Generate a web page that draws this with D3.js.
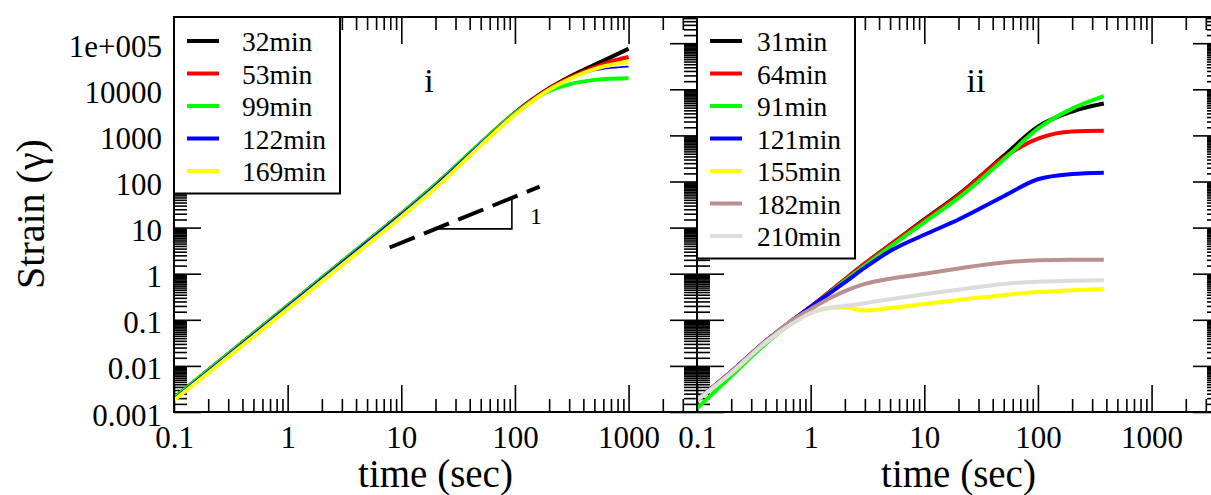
<!DOCTYPE html>
<html><head><meta charset="utf-8">
<script src="https://cdn.jsdelivr.net/npm/d3@7"></script>
<style>
html,body{margin:0;padding:0;background:#fff;}
svg{display:block;}
</style></head>
<body>
<svg id="chart" width="1211" height="495"></svg>
<script>
// ---------- data ----------
const timeL = [0.1, 0.2, 0.5, 1, 2, 5, 10, 20, 50, 100, 200, 300, 500, 700, 1000];
const labelsL = ["32min", "53min", "99min", "122min", "169min"];
const colorsL = ["#000000", "#ff0000", "#00ff00", "#0000ff", "#ffff00"];
const s32 = [0.002, 0.008, 0.05, 0.2, 0.8, 5, 20, 85, 680, 3100, 10500, 18500, 34000, 50000, 76000];
const s53 = [0.002, 0.008, 0.05, 0.2, 0.8, 5, 20, 85, 680, 3050, 10300, 17500, 30000, 40000, 50000];
const s99 = [0.002, 0.008, 0.05, 0.2, 0.8, 5, 20, 85, 680, 3000, 9200, 12800, 16000, 17000, 17300];
const s122 = [0.002, 0.008, 0.05, 0.2, 0.8, 5, 20, 85, 680, 3050, 10300, 17000, 25500, 29000, 31000];
const s169 = [0.0018, 0.007, 0.043, 0.17, 0.68, 4.2, 17, 72, 600, 2800, 9800, 16500, 27500, 34000, 39000];
const seriesL = [s32, s53, s99, s122, s169];

const timeR = [0.1, 0.2, 0.4, 0.7, 1, 1.5, 2, 3, 5, 10, 20, 50, 100, 200, 380];
const labelsR = ["31min", "64min", "91min", "121min", "155min", "182min", "210min"];
const colorsR = ["#000000", "#ff0000", "#00ff00", "#0000ff", "#ffff00", "#bc8f8f", "#dcdcdc"];
const s31 = [0.0018, 0.0075, 0.034, 0.1, 0.19, 0.42, 0.75, 1.65, 4.2, 15, 52, 360, 1550, 3300, 4900];
const s64 = [0.0018, 0.0075, 0.034, 0.1, 0.19, 0.42, 0.75, 1.65, 4.2, 14.5, 50, 330, 850, 1220, 1260];
const s91 = [0.0012, 0.006, 0.03, 0.09, 0.18, 0.4, 0.7, 1.5, 3.8, 13, 44, 300, 1400, 3800, 7100];
const s121 = [0.0018, 0.0075, 0.034, 0.1, 0.19, 0.39, 0.65, 1.35, 3.1, 7, 15, 48, 112, 145, 155];
const s155 = [0.0018, 0.007, 0.032, 0.085, 0.14, 0.18, 0.185, 0.16, 0.18, 0.22, 0.27, 0.34, 0.4, 0.44, 0.46];
const s182 = [0.0018, 0.0075, 0.034, 0.1, 0.17, 0.3, 0.42, 0.6, 0.78, 1.0, 1.3, 1.75, 1.95, 2.0, 2.0];
const s210 = [0.0018, 0.007, 0.032, 0.085, 0.14, 0.185, 0.2, 0.23, 0.28, 0.36, 0.45, 0.6, 0.67, 0.7, 0.72];
const seriesR = [s31, s64, s91, s121, s155, s182, s210];

// slope-1 guide line and triangle
const guideT = [7.9, 165];
const guideS = [3.7, 77.5];
const triT = [20, 94, 94];
const triS = [9.4, 9.4, 44];

const xMajor = [0.1, 1, 10, 100, 1000];
const yMajor = [0.001, 0.01, 0.1, 1, 10, 100, 1000, 10000, 100000];
const yTickLabels = ["0.001", "0.01", "0.1", "1", "10", "100", "1000", "10000", "1e+005"];

// ---------- layout ----------
const FONT = '"Liberation Serif", "Times New Roman", serif';
const svg = d3.select("#chart");
const yTop = 17, yBot = 412;
const Lx0 = 174, Lx1 = 697, Rx0 = 697, Rx1 = 1220;
const xL = d3.scaleLog().domain([0.1, 4000]).range([Lx0, Lx1]);
const xR = d3.scaleLog().domain([0.1, 4000]).range([Rx0, Rx1]);
const y = d3.scaleLog().domain([0.001, 3.7e5]).range([yBot, yTop]);

const xMinor = [];
[-1, 0, 1, 2, 3].forEach(d => { for (let k = 2; k <= 9; k++) { const v = k * Math.pow(10, d); if (v <= 4000) xMinor.push(v); } });
const yMinor = [];
[-3, -2, -1, 0, 1, 2, 3, 4, 5].forEach(d => { for (let k = 1.5; k < 10; k += 0.5) { const v = k * Math.pow(10, d); if (v <= 3.7e5) yMinor.push(v); } });

const MAJ = 27, MIN = 13;
const tickFont = 31;

function styleAxis(g) {
  g.attr("font-family", FONT);
  g.select(".domain").remove();
  g.selectAll(".tick line").attr("stroke", "#000").attr("stroke-width", 1.6);
  g.selectAll("text").attr("font-size", tickFont).attr("fill", "#000").style("font-family", FONT);
}

function panelAxes(x, x0, x1, showY) {
  svg.append("g").attr("transform", `translate(0,${yBot})`)
    .call(d3.axisBottom(x).tickValues(xMajor).tickSize(-MAJ).tickPadding(14).tickFormat(d3.format("~g"))).call(styleAxis);
  svg.append("g").attr("transform", `translate(0,${yBot})`)
    .call(d3.axisBottom(x).tickValues(xMinor).tickSize(-MIN).tickFormat("")).call(styleAxis);
  svg.append("g").attr("transform", `translate(0,${yTop})`)
    .call(d3.axisBottom(x).tickValues(xMajor).tickSize(MAJ).tickFormat("")).call(styleAxis);
  svg.append("g").attr("transform", `translate(0,${yTop})`)
    .call(d3.axisBottom(x).tickValues(xMinor).tickSize(MIN).tickFormat("")).call(styleAxis);
  const la = d3.axisLeft(y).tickValues(yMajor).tickSize(-MAJ).tickPadding(12)
    .tickFormat(showY ? (d => yTickLabels[yMajor.indexOf(d)]) : "");
  const ga = svg.append("g").attr("transform", `translate(${x0},0)`).call(la).call(styleAxis);
  ga.selectAll("text").attr("dy", "0.42em");
  svg.append("g").attr("transform", `translate(${x0},0)`)
    .call(d3.axisLeft(y).tickValues(yMinor).tickSize(-MIN).tickFormat("")).call(styleAxis);
  svg.append("g").attr("transform", `translate(${x1},0)`)
    .call(d3.axisRight(y).tickValues(yMajor).tickSize(-MAJ).tickFormat("")).call(styleAxis);
  svg.append("g").attr("transform", `translate(${x1},0)`)
    .call(d3.axisRight(y).tickValues(yMinor).tickSize(-MIN).tickFormat("")).call(styleAxis);
}

function drawCurves(x, times, series, colors, widths) {
  const line = d3.line().x(d => x(d[0])).y(d => y(d[1])).curve(d3.curveMonotoneX);
  series.forEach((s, i) => {
    svg.append("path").datum(times.map((t, j) => [t, s[j]]))
      .attr("d", line).attr("fill", "none").attr("stroke", colors[i])
      .attr("stroke-width", widths[i]).attr("stroke-linejoin", "round");
  });
}

function txt(x, yy, size, s, anchor) {
  return svg.append("text").attr("x", x).attr("y", yy).attr("font-size", size)
    .attr("text-anchor", anchor || "start").style("font-family", FONT).attr("fill", "#000").text(s);
}

function legend(x0, w, labels, colors, textX) {
  const rowH = 32.5;
  const h = 14 + labels.length * rowH;
  svg.append("rect").attr("x", x0).attr("y", yTop).attr("width", w).attr("height", h)
    .attr("fill", "#fff").attr("stroke", "#000").attr("stroke-width", 2);
  labels.forEach((lab, i) => {
    const yy = 41 + i * rowH;
    svg.append("line").attr("x1", x0 + 13).attr("x2", x0 + 45).attr("y1", yy).attr("y2", yy)
      .attr("stroke", colors[i]).attr("stroke-width", 4);
    txt(textX, yy + 10, 27.5, lab);
  });
}

panelAxes(xL, Lx0, Lx1, true);
panelAxes(xR, Rx0, Rx1, false);

drawCurves(xL, timeL, seriesL, colorsL, [4, 4, 4, 1.6, 4]);
const guideLine = d3.line().x(d => xL(d[0])).y(d => y(d[1]));
svg.append("path").datum(guideT.map((t, i) => [t, guideS[i]])).attr("d", guideLine)
  .attr("fill", "none").attr("stroke", "#000").attr("stroke-width", 4).attr("stroke-dasharray", "27,10");
svg.append("path").datum(triT.map((t, i) => [t, triS[i]])).attr("d", guideLine)
  .attr("fill", "none").attr("stroke", "#000").attr("stroke-width", 1.6);
txt(xL(94) + 24, y(9.4) - 5, 24, "1", "middle");
txt(429, 92, 34, "i", "middle");

drawCurves(xR, timeR, seriesR, colorsR, [4, 4, 4, 4, 4, 4, 4]);
txt(976, 92, 34, "ii", "middle");

legend(Lx0, 166, labelsL, colorsL, 242);
legend(Rx0, 158, labelsR, colorsR, 757);

svg.append("rect").attr("x", Lx0).attr("y", yTop).attr("width", Lx1 - Lx0).attr("height", yBot - yTop)
  .attr("fill", "none").attr("stroke", "#000").attr("stroke-width", 2);
svg.append("rect").attr("x", Rx0).attr("y", yTop).attr("width", Rx1 - Rx0).attr("height", yBot - yTop)
  .attr("fill", "none").attr("stroke", "#000").attr("stroke-width", 2);

txt((Lx0 + Lx1) / 2, 487, 39, "time (sec)", "middle");
txt((Rx0 + Rx1) / 2, 487, 39, "time (sec)", "middle");
txt(0, 0, 40, "Strain (γ)", "middle").attr("transform", "translate(44,214) rotate(-90)");
</script>
</body></html>
